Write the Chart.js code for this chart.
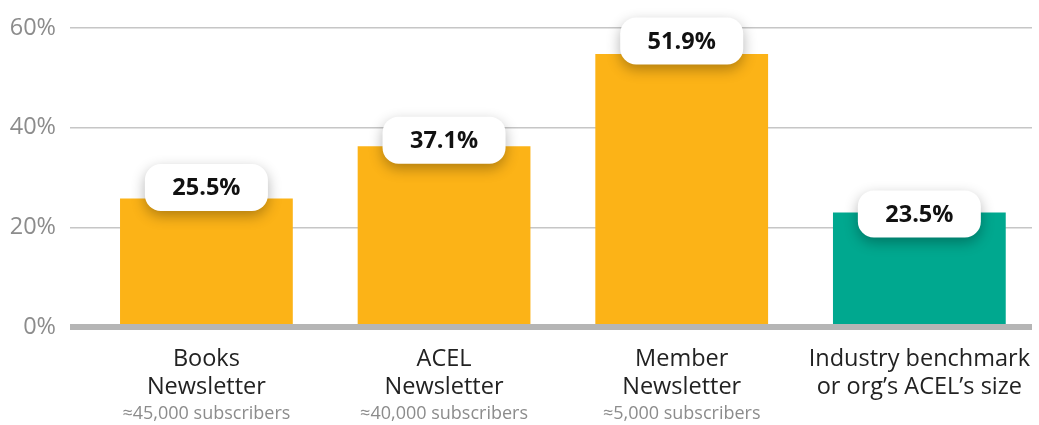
<!DOCTYPE html>
<html>
<head>
<meta charset="utf-8">
<script src="https://cdn.jsdelivr.net/npm/chart.js@4.4.1/dist/chart.umd.min.js"></script>
<style>
  html, body { margin: 0; padding: 0; background: #fff; }
  #wrap { width: 1039px; height: 425px; position: relative; }
</style>
</head>
<body>
<div id="wrap"><canvas id="chart"></canvas></div>
<script>
// dados
const categorias = [
  ["Books", "Newsletter"],
  ["ACEL", "Newsletter"],
  ["Member", "Newsletter"],
  ["Industry benchmark", "or org\u2019s ACEL\u2019s size"]
];
const assinantes = ["\u224845,000 subscribers", "\u224840,000 subscribers", "\u22485,000 subscribers", ""];
const valores = [25.8, 36.3, 54.8, 23.0];
const rotulos = ["25.5%", "37.1%", "51.9%", "23.5%"];
const yTicks = [0, 20, 40, 60];

const coresBarras = ["#FCB317", "#FCB317", "#FCB317", "#00A88F"];
// deslocamento da caixa do rotulo em relacao ao topo da barra (px)
const deslocRotulo = [11, 6, 13, -1.5];

const FONTE = '"Open Sans", "DejaVu Sans", sans-serif';

// Caixas brancas com o valor + rotulos das categorias
const rotulosPlugin = {
  id: 'rotulos',
  afterDatasetsDraw(chart) {
    const ctx = chart.ctx;
    const meta = chart.getDatasetMeta(0);
    meta.data.forEach((bar, i) => {
      const w = 123, h = 47, r = 16;
      const cx = bar.x;
      const cy = bar.y - deslocRotulo[i];
      ctx.save();
      ctx.shadowColor = 'rgba(0,0,0,0.30)';
      ctx.shadowBlur = 14;
      ctx.shadowOffsetY = 5;
      ctx.fillStyle = '#fff';
      ctx.beginPath();
      ctx.roundRect(cx - w / 2, cy - h / 2, w, h, r);
      ctx.fill();
      ctx.restore();

      ctx.save();
      ctx.fillStyle = '#111';
      ctx.font = 'bold 23.5px ' + FONTE;
      ctx.textAlign = 'center';
      ctx.textBaseline = 'middle';
      ctx.fillText(rotulos[i], cx, cy + 1);
      ctx.restore();
    });
  },
  afterDraw(chart) {
    const ctx = chart.ctx;
    const xs = chart.scales.x;
    const base = chart.chartArea.bottom;
    ctx.save();
    ctx.textAlign = 'center';
    ctx.textBaseline = 'alphabetic';
    categorias.forEach((linhas, i) => {
      const x = xs.getPixelForValue(i);
      ctx.fillStyle = '#222';
      ctx.font = '23.5px ' + FONTE;
      ctx.fillText(linhas[0], x, base + 39);
      ctx.fillText(linhas[1], x, base + 66.5);
      ctx.fillStyle = '#8c8c8c';
      ctx.font = '18px ' + FONTE;
      ctx.fillText(assinantes[i], x, base + 91.5);
    });
    ctx.restore();
  }
};

function criaGrafico() {
  new Chart(document.getElementById('chart'), {
    type: 'bar',
    data: {
      datasets: [{
        data: valores.map((v, i) => ({ x: i, y: v })),
        backgroundColor: coresBarras,
        borderWidth: 0,
        barPercentage: 0.727,
        categoryPercentage: 1
      }]
    },
    options: {
      responsive: true,
      maintainAspectRatio: false,
      animation: false,
      layout: { padding: { top: 24.7, right: 7, bottom: 98, left: 0 } },
      plugins: {
        legend: { display: false },
        tooltip: { enabled: false }
      },
      scales: {
        x: {
          type: 'linear',
          display: false,
          offset: false,
          grid: { offset: false },
          min: -0.574,
          max: 3.474,
          afterBuildTicks: s => { s.ticks = categorias.map((c, i) => ({ value: i })); }
        },
        y: {
          min: 0,
          max: 60,
          afterBuildTicks: s => { s.ticks = yTicks.map(v => ({ value: v })); },
          afterFit: s => { s.width = 70; },
          border: { display: false },
          grid: {
            drawTicks: false,
            color: ctx => ctx.tick && ctx.tick.value === 0 ? '#b5b5b5' : '#c6c6c6',
            lineWidth: ctx => ctx.tick && ctx.tick.value === 0 ? 6 : 1.5
          },
          ticks: {
            padding: 14,
            color: '#8c8c8c',
            font: { family: FONTE, size: 23.5 },
            callback: v => v + '%'
          }
        }
      }
    },
    plugins: [rotulosPlugin]
  });
}

Promise.all([
  document.fonts.load('23.5px "Open Sans"'),
  document.fonts.load('bold 23.5px "Open Sans"'),
  document.fonts.load('18px "Open Sans"')
]).then(criaGrafico, criaGrafico);
</script>
</body>
</html>
